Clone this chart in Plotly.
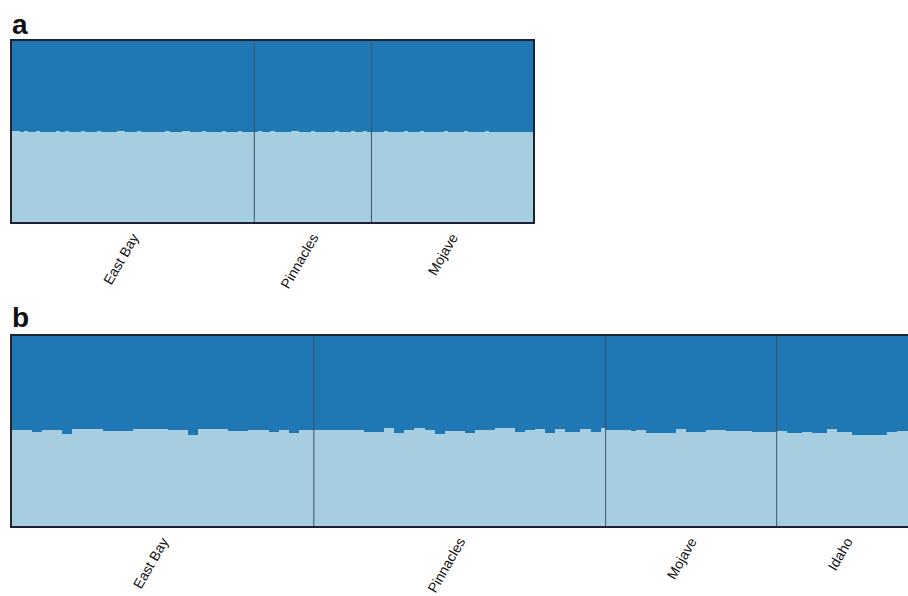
import plotly.graph_objects as go

# ---------------- data ----------------
groups_a = ["East Bay", "Pinnacles", "Mojave"]
eastbay_a = [0.502, 0.501, 0.500, 0.501, 0.499, 0.500, 0.501, 0.500, 0.497, 0.499,
             0.500, 0.501, 0.500, 0.502, 0.499, 0.498, 0.500, 0.501, 0.500, 0.499,
             0.500, 0.501, 0.497, 0.496, 0.499, 0.500, 0.501, 0.502, 0.500, 0.499,
             0.500, 0.501, 0.500, 0.499, 0.500, 0.497, 0.496, 0.500, 0.501, 0.500,
             0.499, 0.500, 0.501, 0.502, 0.500, 0.499, 0.500, 0.501, 0.500, 0.500,
             0.499, 0.500, 0.501, 0.500, 0.499, 0.500, 0.501, 0.500, 0.500, 0.500]
pinnacles_a = [0.500, 0.501, 0.500, 0.499, 0.501, 0.500, 0.497, 0.498, 0.500, 0.501,
               0.502, 0.500, 0.499, 0.500, 0.501, 0.500, 0.498, 0.496, 0.499, 0.500,
               0.501, 0.500, 0.499, 0.500, 0.501, 0.500, 0.500, 0.501, 0.500]
mojave_a = [0.500, 0.499, 0.500, 0.501, 0.500, 0.499, 0.498, 0.500, 0.501, 0.500,
            0.499, 0.500, 0.501, 0.500, 0.499, 0.498, 0.499, 0.500, 0.501, 0.500,
            0.500, 0.499, 0.500, 0.501, 0.500, 0.499, 0.500, 0.500, 0.501, 0.500,
            0.499, 0.500, 0.500, 0.498, 0.499, 0.500, 0.500, 0.499, 0.499, 0.499]

groups_b = ["East Bay", "Pinnacles", "Mojave", "Idaho"]
eastbay_b = [0.505, 0.505, 0.506, 0.505, 0.495, 0.496, 0.505, 0.504, 0.505, 0.505,
             0.484, 0.484, 0.511, 0.511, 0.510, 0.511, 0.511, 0.510, 0.500, 0.501,
             0.500, 0.499, 0.500, 0.500, 0.511, 0.511, 0.510, 0.511, 0.511, 0.510,
             0.511, 0.505, 0.505, 0.504, 0.505, 0.479, 0.479, 0.511, 0.511, 0.510,
             0.511, 0.511, 0.511, 0.500, 0.500, 0.501, 0.500, 0.505, 0.505, 0.504,
             0.505, 0.495, 0.495, 0.505, 0.505, 0.489, 0.489, 0.505, 0.505, 0.505]
pinnacles_b = [0.505, 0.505, 0.504, 0.505, 0.505, 0.506, 0.505, 0.505, 0.504, 0.505,
               0.495, 0.495, 0.494, 0.495, 0.516, 0.516, 0.489, 0.489, 0.505, 0.505,
               0.516, 0.516, 0.505, 0.505, 0.484, 0.484, 0.500, 0.500, 0.501, 0.500,
               0.489, 0.489, 0.505, 0.505, 0.504, 0.505, 0.516, 0.516, 0.515, 0.516,
               0.495, 0.495, 0.505, 0.505, 0.511, 0.511, 0.492, 0.492, 0.511, 0.511,
               0.495, 0.495, 0.495, 0.511, 0.511, 0.495, 0.495, 0.516]
mojave_b = [0.503, 0.503, 0.504, 0.503, 0.503, 0.502, 0.503, 0.503, 0.489, 0.489,
            0.488, 0.489, 0.489, 0.489, 0.511, 0.511, 0.495, 0.495, 0.494, 0.495,
            0.505, 0.505, 0.504, 0.505, 0.500, 0.500, 0.501, 0.500, 0.500, 0.495,
            0.495, 0.494, 0.495, 0.495]
idaho_b = [0.502, 0.502, 0.489, 0.489, 0.489, 0.495, 0.495, 0.489, 0.489, 0.489,
           0.511, 0.511, 0.497, 0.497, 0.497, 0.479, 0.478, 0.479, 0.478, 0.479,
           0.478, 0.479, 0.495, 0.495, 0.502, 0.502, 0.502, 0.502]

panel_a = [eastbay_a, pinnacles_a, mojave_a]
panel_b = [eastbay_b, pinnacles_b, mojave_b, idaho_b]

LIGHT = "#a6cee0"
DARK = "#1f77b4"
FRAME = "#1b2430"
DIVIDER = "#3d5263"

W, H = 908, 596


def px_x(x):
    return x / W


def px_y(y):
    return 1 - y / H


fig = go.Figure()


def add_panel(data, xa, ya):
    light = [v for g in data for v in g]
    dark = [1 - v for v in light]
    idx = list(range(len(light)))
    fig.add_trace(go.Bar(x=idx, y=light, marker=dict(color=LIGHT, line=dict(width=0)),
                         xaxis=xa, yaxis=ya, showlegend=False, hoverinfo="skip"))
    fig.add_trace(go.Bar(x=idx, y=dark, marker=dict(color=DARK, line=dict(width=0)),
                         xaxis=xa, yaxis=ya, showlegend=False, hoverinfo="skip"))
    centers, bounds, start = [], [], 0
    for g in data:
        centers.append(start + (len(g) - 1) / 2)
        start += len(g)
        bounds.append(start - 0.5)
    for b in bounds[:-1]:
        fig.add_shape(type="line", x0=b, x1=b, y0=0, y1=1, xref=xa,
                      yref=ya + " domain", line=dict(color=DIVIDER, width=1))
    return centers, len(light)


ca, na = add_panel(panel_a, "x", "y")
cb, nb = add_panel(panel_b, "x2", "y2")

axis_common = dict(showgrid=False, zeroline=False, showline=True,
                   linecolor=FRAME, linewidth=2, ticks="")
tickfont = dict(family="Liberation Sans, Arial, sans-serif", size=14, color="#111111")

fig.update_layout(
    width=W, height=H,
    margin=dict(l=0, r=0, t=0, b=0),
    paper_bgcolor="white", plot_bgcolor="white",
    barmode="stack", bargap=0,
    xaxis=dict(domain=[px_x(12), px_x(533)], range=[-0.5, na - 0.5],
               tickmode="array", tickvals=ca, ticktext=groups_a, tickangle=-60,
               tickfont=tickfont, anchor="y", mirror=True, **axis_common),
    yaxis=dict(domain=[px_y(222), px_y(41)], range=[0, 1],
               showticklabels=False, anchor="x", mirror=True, **axis_common),
    xaxis2=dict(domain=[px_x(12), 1.0], range=[-0.5, 177.6],
                tickmode="array", tickvals=cb, ticktext=groups_b, tickangle=-60,
                tickfont=tickfont, anchor="y2", mirror=True, **axis_common),
    yaxis2=dict(domain=[px_y(526), px_y(336)], range=[0, 1],
                showticklabels=False, anchor="x2", mirror=False, **axis_common),
)

for letter, ypx in [("a", 25), ("b", 318)]:
    fig.add_annotation(text="<b>%s</b>" % letter, x=px_x(10), y=px_y(ypx),
                       xref="paper", yref="paper", xanchor="left", yanchor="middle",
                       showarrow=False,
                       font=dict(family="Liberation Sans, Arial, sans-serif",
                                 size=28, color="#111111"))

fig.write_html("out.html",
               config={"displayModeBar": False},
               post_script="document.body.style.margin='0';"
                           "document.body.style.overflow='hidden';")
